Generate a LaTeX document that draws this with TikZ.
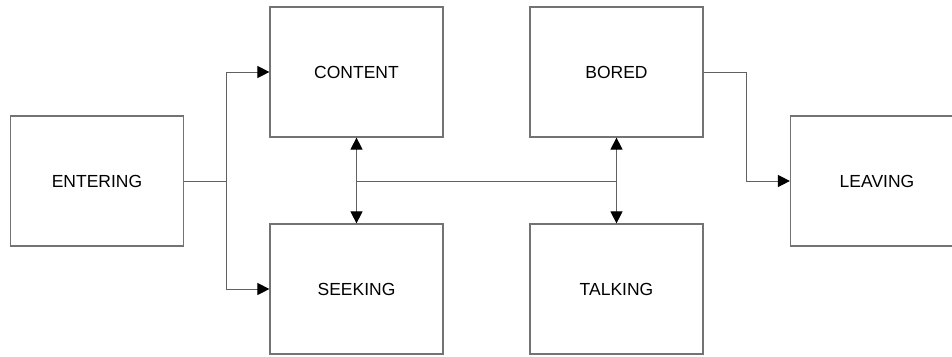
\documentclass[tikz,border=0pt]{standalone}
\usepackage{fontspec}
\setmainfont{Liberation Sans}
\usetikzlibrary{arrows.meta}
\begin{document}
\begin{tikzpicture}[x=1pt,y=-1pt,
  statebox/.style={draw=black!55,line width=1.2pt,minimum width=173pt,minimum height=130pt,inner sep=0pt,font=\fontsize{17.5}{20}\selectfont},
  conn/.style={draw=black!62,line width=1pt},
  tip/.style={-{Triangle[length=12pt,width=12pt,fill=black,color=black]}}]
\clip (0,0) rectangle (952,356);
\fill[white] (0,0) rectangle (952,356);
\node[statebox] (entering) at (97,181) {ENTERING};
\node[statebox] (content) at (356.5,72) {CONTENT};
\node[statebox] (seeking) at (356.5,289) {SEEKING};
\node[statebox] (bored) at (616.5,72) {BORED};
\node[statebox] (talking) at (616.5,289) {TALKING};
\node[statebox] (leaving) at (877,181) {LEAVING};
\coordinate (j1) at (226,181);
\coordinate (j2) at (746,181);
\draw[conn] (entering.east) -- (j1);
\draw[conn,tip] (j1) |- (content.west);
\draw[conn,tip] (j1) |- (seeking.west);
\draw[conn,tip] (bored.east) -| (j2) -- (leaving.west);
\draw[conn,{Triangle[length=12pt,width=12pt,fill=black,color=black]}-{Triangle[length=12pt,width=12pt,fill=black,color=black]}] (content.south) -- (seeking.north);
\draw[conn,{Triangle[length=12pt,width=12pt,fill=black,color=black]}-{Triangle[length=12pt,width=12pt,fill=black,color=black]}] (bored.south) -- (talking.north);
\draw[conn] (content.south |- entering.east) -- (bored.south |- entering.east);
\end{tikzpicture}
\end{document}
